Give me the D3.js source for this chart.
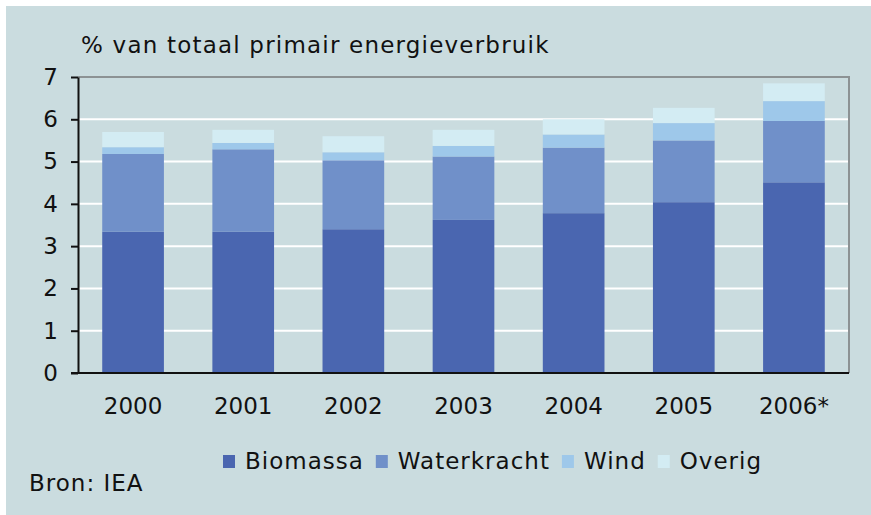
<!DOCTYPE html>
<html>
<head>
<meta charset="utf-8">
<script src="https://cdn.jsdelivr.net/npm/d3@7"></script>
<style>
  body { margin: 0; background: #ffffff; }
  text { font-family: "DejaVu Sans", Verdana, sans-serif; fill: #111; }
</style>
</head>
<body>
<div id="chart"></div>
<script>
// Data
const years = ["2000", "2001", "2002", "2003", "2004", "2005", "2006*"];
const biomassa    = [3.34, 3.34, 3.40, 3.62, 3.78, 4.04, 4.51];
const waterkracht = [1.84, 1.95, 1.63, 1.50, 1.55, 1.46, 1.45];
const wind        = [0.16, 0.15, 0.19, 0.25, 0.31, 0.41, 0.47];
const overig      = [0.36, 0.31, 0.38, 0.38, 0.36, 0.36, 0.42];
const seriesNames = ["Biomassa", "Waterkracht", "Wind", "Overig"];
const yTicks = [0, 1, 2, 3, 4, 5, 6, 7];

const colors = ["#4a66b0", "#7090c9", "#9ec8ea", "#d3ecf3"];

const W = 871, H = 515;
const margin = {top: 77, right: 22, bottom: 142, left: 78};
const width = W - margin.left - margin.right;
const height = H - margin.top - margin.bottom;

const svg = d3.select("#chart")
    .append("svg")
    .attr("width", W)
    .attr("height", H);

// Panel background
svg.append("rect")
    .attr("x", 6).attr("y", 6)
    .attr("width", W - 6).attr("height", H - 6)
    .attr("fill", "#cadcdf");

// Title
svg.append("text")
    .attr("x", 81)
    .attr("y", 53)
    .style("font-size", "23px")
    .style("letter-spacing", "1.2px")
    .text("% van totaal primair energieverbruik");

const g = svg.append("g")
    .attr("transform", `translate(${margin.left},${margin.top})`);

// Build table for stacking
const table = years.map((yr, i) => ({
    year: yr,
    Biomassa: biomassa[i],
    Waterkracht: waterkracht[i],
    Wind: wind[i],
    Overig: overig[i]
}));

const x = d3.scaleBand()
    .domain(years)
    .range([0, width])
    .paddingInner(0.44)
    .paddingOuter(0.22);

const y = d3.scaleLinear()
    .domain([0, 7])
    .range([height, 0]);

// Gridlines
g.selectAll(".grid")
    .data(yTicks.filter(t => t > 0 && t < 7))
    .enter().append("line")
    .attr("x1", 0).attr("x2", width)
    .attr("y1", d => y(d)).attr("y2", d => y(d))
    .attr("stroke", "#ffffff")
    .attr("stroke-width", 2);

// Frame (top and right)
g.append("path")
    .attr("d", `M0,${y(7)}H${width}V${y(0)}`)
    .attr("fill", "none")
    .attr("stroke", "#8c9294")
    .attr("stroke-width", 2);

// Stacked bars
const stack = d3.stack().keys(seriesNames);
const layers = stack(table);

g.selectAll(".layer")
    .data(layers)
    .enter().append("g")
    .attr("class", "layer")
    .attr("fill", (d, i) => colors[i])
    .selectAll("rect")
    .data(d => d)
    .enter().append("rect")
    .attr("x", d => x(d.data.year))
    .attr("width", x.bandwidth())
    .attr("y", d => y(d[1]))
    .attr("height", d => y(d[0]) - y(d[1]));

// Y axis
const yAxis = g.append("g")
    .call(d3.axisLeft(y).tickValues(yTicks).tickFormat(d3.format("d"))
        .tickSize(7).tickPadding(13).tickSizeOuter(0));
yAxis.select(".domain").attr("stroke", "#111").attr("stroke-width", 2);
yAxis.selectAll(".tick line").attr("stroke", "#111").attr("stroke-width", 2);
yAxis.selectAll("text")
    .style("font-size", "23px")
    .style("font-family", null);

// X axis
const xAxis = g.append("g")
    .attr("transform", `translate(0,${height})`)
    .call(d3.axisBottom(x).tickSize(0).tickPadding(25).tickSizeOuter(0));
xAxis.select(".domain")
    .attr("d", `M-7,0H${width}`)
    .attr("stroke", "#111").attr("stroke-width", 2);
xAxis.selectAll("text")
    .style("font-size", "23px")
    .style("font-family", null);

// Legend
const legend = svg.append("g")
    .attr("transform", "translate(223,455)");
let lx = 0;
seriesNames.forEach((name, i) => {
    const item = legend.append("g").attr("transform", `translate(${lx},0)`);
    item.append("rect")
        .attr("width", 12).attr("height", 13)
        .attr("fill", colors[i]);
    const t = item.append("text")
        .attr("x", 22)
        .attr("y", 14)
        .style("font-size", "23px")
        .style("letter-spacing", "1px")
        .text(name);
    lx += 22 + t.node().getComputedTextLength() + 12;
});

// Source
svg.append("text")
    .attr("x", 29)
    .attr("y", 491)
    .style("font-size", "23px")
    .style("letter-spacing", "1px")
    .text("Bron: IEA");
</script>
</body>
</html>
